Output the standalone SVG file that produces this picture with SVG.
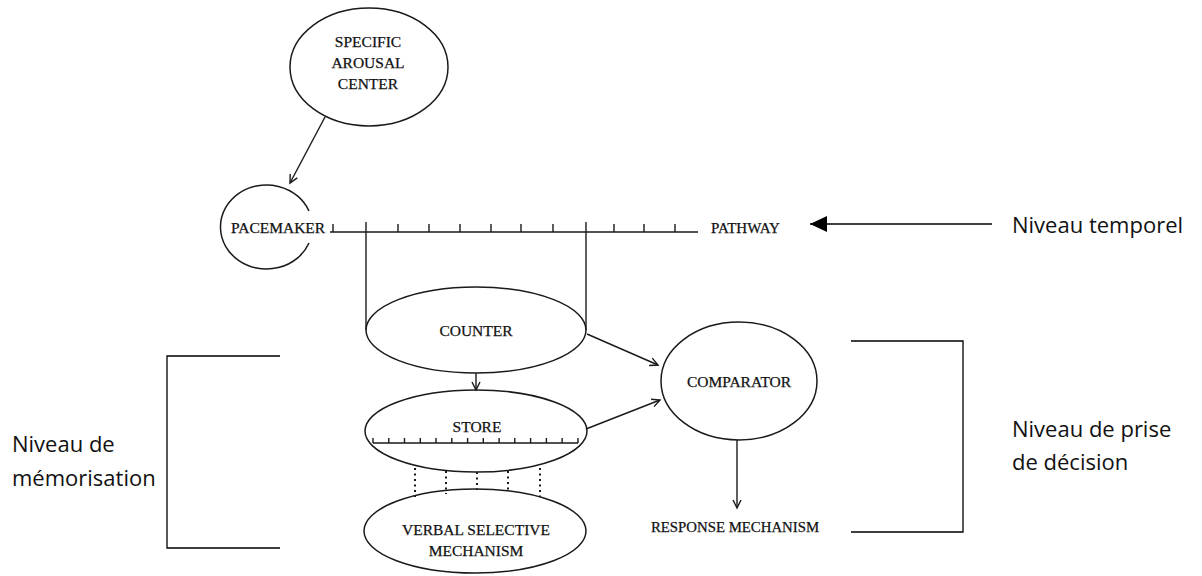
<svg xmlns="http://www.w3.org/2000/svg" width="1202" height="576" viewBox="0 0 1202 576">
<defs>
<style>
.shape{fill:none;stroke:#1a1a1a;stroke-width:1.5}
.line{fill:none;stroke:#1a1a1a;stroke-width:1.4}
.lbl{font-family:"Liberation Serif","Times New Roman",serif;font-size:15.5px;fill:#111;stroke:#111;stroke-width:0.25;text-anchor:middle}
.fr{font-family:"Open Sans","Noto Sans",sans-serif;font-size:22px;fill:#111}
.br{fill:none;stroke:#000;stroke-width:1.3}
.dot{fill:none;stroke:#1a1a1a;stroke-width:2;stroke-dasharray:2,3.5}
</style>
<marker id="vopen" markerWidth="12" markerHeight="12" refX="9" refY="5" orient="auto" markerUnits="userSpaceOnUse">
<path d="M1,1 L9,5 L1,9" fill="none" stroke="#1a1a1a" stroke-width="1.4"/>
</marker>
<marker id="tri" markerWidth="20" markerHeight="18" refX="17" refY="8" orient="auto" markerUnits="userSpaceOnUse">
<path d="M0,0 L17,8 L0,16 Z" fill="#000"/>
</marker>
</defs>

<g id="specific-arousal-center">
<ellipse class="shape" cx="369" cy="67" rx="79" ry="59"/>
<text class="lbl" x="368" y="47">SPECIFIC</text>
<text class="lbl" x="368" y="68">AROUSAL</text>
<text class="lbl" x="368" y="89">CENTER</text>
</g>

<g id="pacemaker">
<path class="shape" d="M309,211 A46,42 0 1 0 309,243"/>
<text class="lbl" x="231" y="233" style="text-anchor:start">PACEMAKER</text>
</g>

<g id="pathway">
<path class="line" d="M330,232 H698"/>
<path class="line" d="M333,232 v-8 M398,232 v-8 M429,232 v-8 M460,232 v-8 M491,232 v-8 M521,232 v-8 M553,232 v-8 M614,232 v-8 M644,232 v-8 M675,232 v-8"/>
<text class="lbl" x="711" y="233" style="text-anchor:start;font-size:15px">PATHWAY</text>
</g>

<g id="counter">
<ellipse class="shape" cx="476" cy="330" rx="110" ry="43"/>
<text class="lbl" x="476" y="336">COUNTER</text>
</g>

<g id="store">
<ellipse class="shape" cx="476" cy="431" rx="111" ry="41"/>
<text class="lbl" x="477" y="432">STORE</text>
<path class="line" d="M373,443 H578 M373,443 v-5 M388.8,443 v-5 M404.5,443 v-5 M420.3,443 v-5 M436,443 v-5 M451.8,443 v-5 M467.6,443 v-5 M483.3,443 v-5 M499.1,443 v-5 M514.8,443 v-5 M530.6,443 v-5 M546.4,443 v-5 M562.1,443 v-5 M578,443 v-5"/>
</g>

<g id="verbal-selective-mechanism">
<ellipse class="shape" cx="475" cy="531" rx="111" ry="42"/>
<text class="lbl" x="476" y="535">VERBAL SELECTIVE</text>
<text class="lbl" x="476" y="556">MECHANISM</text>
</g>

<g id="comparator">
<ellipse class="shape" cx="739" cy="381" rx="78" ry="59"/>
<text class="lbl" x="739" y="387">COMPARATOR</text>
</g>

<g id="response-mechanism">
<text class="lbl" x="735" y="532" style="font-size:14.8px">RESPONSE MECHANISM</text>
</g>

<g id="connectors">
<path class="line" d="M325,117 L290,183" marker-end="url(#vopen)"/>
<path class="line" d="M366,222 V330"/>
<path class="line" d="M586,222 V330"/>
<path class="line" d="M476,373 V390" marker-end="url(#vopen)"/>
<path class="line" d="M587,334 L658,365" marker-end="url(#vopen)"/>
<path class="line" d="M586,429 L660,400" marker-end="url(#vopen)"/>
<path class="line" d="M737,440 V508" marker-end="url(#vopen)"/>
<path class="dot" d="M415,468 V497 M446,471 V494 M477,472 V490 M508,471 V492 M540,468 V497"/>
<path class="line" d="M992,224 H810" marker-end="url(#tri)" style="stroke:#000;stroke-width:1.6"/>
</g>

<g id="niveau-temporel">
<text class="fr" x="1012" y="233">Niveau temporel</text>
</g>

<g id="niveau-memorisation">
<path class="br" d="M280,356 H167 V548 H280"/>
<text class="fr" x="12" y="452">Niveau de</text>
<text class="fr" x="12" y="486">mémorisation</text>
</g>

<g id="niveau-decision">
<path class="br" d="M851,341 H963 V532 H851"/>
<text class="fr" x="1012" y="437">Niveau de prise</text>
<text class="fr" x="1012" y="470">de décision</text>
</g>
</svg>
